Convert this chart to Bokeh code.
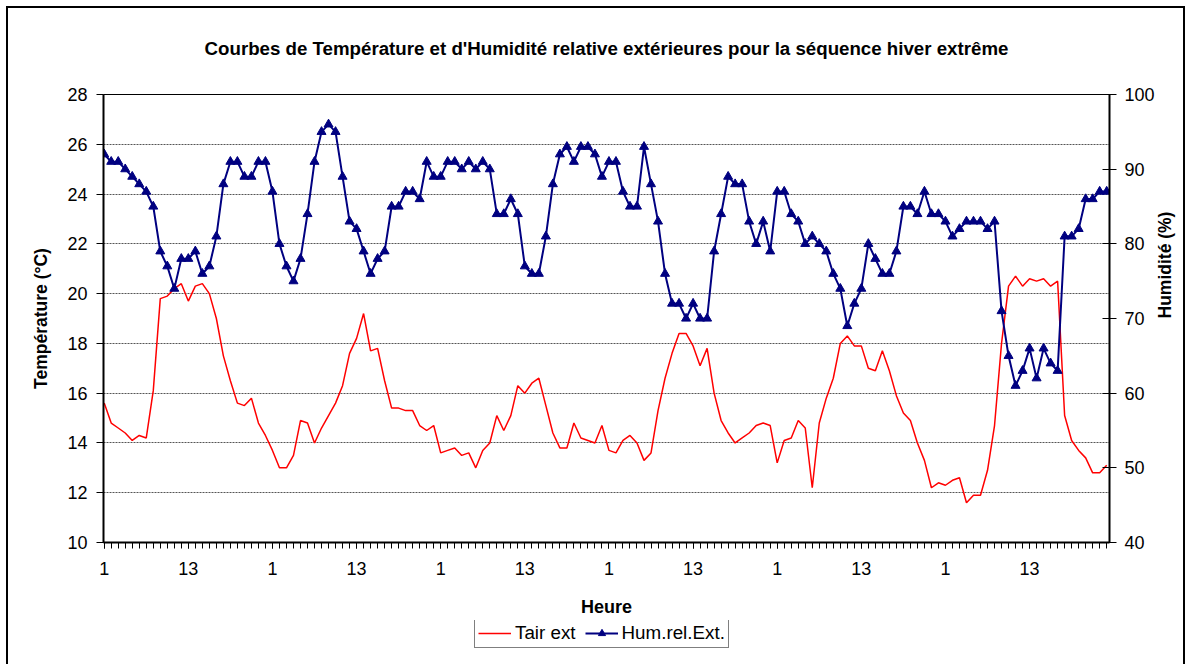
import math
from bokeh.plotting import figure
from bokeh.layouts import column
from bokeh.models import Range1d, LinearAxis, FixedTicker, Legend, LegendItem
from bokeh.embed import file_html
from bokeh.resources import INLINE

title_text = "Courbes de Température et d'Humidité relative extérieures pour la séquence hiver extrême"
x_label = "Heure"
y_label_left = "Température (°C)"
y_label_right = "Humidité (%)"
series_names = ["Tair ext", "Hum.rel.Ext."]

hours = list(range(1, 145))
tick_positions = [1, 13, 25, 37, 49, 61, 73, 85, 97, 109, 121, 133]
tick_labels = ["1", "13", "1", "13", "1", "13", "1", "13", "1", "13", "1", "13"]
temp_ticks = [10, 12, 14, 16, 18, 20, 22, 24, 26, 28]
hum_ticks = [40, 50, 60, 70, 80, 90, 100]

tair_ext = [
    15.6, 14.8, 14.6, 14.4, 14.1, 14.3, 14.2, 16.1, 19.8, 19.9, 20.2, 20.4,
    19.7, 20.3, 20.4, 20.0, 19.0, 17.5, 16.5, 15.6, 15.5, 15.8, 14.8, 14.3,
    13.7, 13.0, 13.0, 13.5, 14.9, 14.8, 14.0, 14.6, 15.1, 15.6, 16.3, 17.6,
    18.2, 19.2, 17.7, 17.8, 16.5, 15.4, 15.4, 15.3, 15.3, 14.7, 14.5, 14.7,
    13.6, 13.7, 13.8, 13.5, 13.6, 13.0, 13.7, 14.0, 15.1, 14.5, 15.1, 16.3,
    16.0, 16.4, 16.6, 15.5, 14.4, 13.8, 13.8, 14.8, 14.2, 14.1, 14.0, 14.7,
    13.7, 13.6, 14.1, 14.3, 14.0, 13.3, 13.6, 15.3, 16.6, 17.6, 18.4, 18.4,
    17.9, 17.1, 17.8, 16.0, 14.9, 14.4, 14.0, 14.2, 14.4, 14.7, 14.8, 14.7,
    13.2, 14.1, 14.2, 14.9, 14.6, 12.2, 14.8, 15.8, 16.6, 18.0, 18.3, 17.9,
    17.9, 17.0, 16.9, 17.7, 16.9, 15.9, 15.2, 14.9, 14.0, 13.3, 12.2, 12.4,
    12.3, 12.5, 12.6, 11.6, 11.9, 11.9, 12.9, 14.7, 18.0, 20.3, 20.7, 20.3,
    20.6, 20.5, 20.6, 20.3, 20.5, 15.1, 14.1, 13.7, 13.4, 12.8, 12.8, 13.1,
]

hum_rel_ext = [
    92, 91, 91, 90, 89, 88, 87, 85, 79, 77, 74, 78,
    78, 79, 76, 77, 81, 88, 91, 91, 89, 89, 91, 91,
    87, 80, 77, 75, 78, 84, 91, 95, 96, 95, 89, 83,
    82, 79, 76, 78, 79, 85, 85, 87, 87, 86, 91, 89,
    89, 91, 91, 90, 91, 90, 91, 90, 84, 84, 86, 84,
    77, 76, 76, 81, 88, 92, 93, 91, 93, 93, 92, 89,
    91, 91, 87, 85, 85, 93, 88, 83, 76, 72, 72, 70,
    72, 70, 70, 79, 84, 89, 88, 88, 83, 80, 83, 79,
    87, 87, 84, 83, 80, 81, 80, 79, 76, 74, 69, 72,
    74, 80, 78, 76, 76, 79, 85, 85, 84, 87, 84, 84,
    83, 81, 82, 83, 83, 83, 82, 83, 71, 65, 61, 63,
    66, 62, 66, 64, 63, 81, 81, 82, 86, 86, 87, 87,
]

FONT = "Liberation Sans"
RED = "#FF0000"
NAVY = "#000080"

p = figure(
    width=1179, height=614,
    output_backend="svg", toolbar_location=None,
    x_range=Range1d(0.9, 144.4), y_range=Range1d(10, 28),
    min_border_left=95, min_border_right=73, min_border_top=86, min_border_bottom=80,
    background_fill_color="white", border_fill_color="white",
)
p.styles = {"margin-left": "6px", "margin-top": "6px",
            "border-left": "2px solid black", "border-top": "2px solid black",
            "border-right": "2px solid black"}
p.title.text = ""

# Chart title, carried by a tick-less axis above the frame
ta = LinearAxis(ticker=FixedTicker(ticks=[]))
ta.axis_label = title_text
ta.axis_label_text_font = FONT
ta.axis_label_text_font_size = "18.7px"
ta.axis_label_text_font_style = "bold"
ta.axis_label_text_color = "black"
ta.axis_label_standoff = 36
ta.axis_line_color = None
ta.major_tick_line_color = None
ta.minor_tick_line_color = None
ta.major_tick_out = 0
ta.major_tick_in = 0
ta.minor_tick_out = 0
ta.minor_tick_in = 0
ta.major_label_standoff = 0
p.add_layout(ta, "above")

p.outline_line_color = "black"
p.outline_line_width = 1

p.extra_y_ranges = {"hum": Range1d(40, 100)}

# Grid
p.xgrid.visible = False
p.ygrid.ticker = FixedTicker(ticks=temp_ticks)
p.ygrid.grid_line_color = "#555555"
p.ygrid.grid_line_dash = "2 1"
p.ygrid.grid_line_width = 1

# X axis
xa = p.below[0]
xa.ticker = FixedTicker(ticks=tick_positions, minor_ticks=hours)
xa.major_label_overrides = {pos: lab for pos, lab in zip(tick_positions, tick_labels)}
xa.axis_label = x_label
xa.axis_label_text_font = FONT
xa.axis_label_text_font_size = "18px"
xa.axis_label_text_font_style = "bold"
xa.axis_label_text_color = "black"
xa.axis_label_standoff = 19
xa.major_label_text_font = FONT
xa.major_label_text_font_size = "18px"
xa.major_label_text_color = "black"
xa.major_label_standoff = 13
xa.axis_line_color = "black"
xa.axis_line_width = 2
xa.major_tick_in = 0
xa.major_tick_out = 6
xa.minor_tick_in = 0
xa.minor_tick_out = 6
xa.major_tick_line_color = "black"
xa.minor_tick_line_color = "black"

# Left axis
ya = p.left[0]
ya.ticker = FixedTicker(ticks=temp_ticks)
ya.axis_label = y_label_left
ya.axis_label_text_font = FONT
ya.axis_label_text_font_size = "17.5px"
ya.axis_label_text_font_style = "bold"
ya.axis_label_text_color = "black"
ya.axis_label_standoff = 13
ya.major_label_text_font = FONT
ya.major_label_text_font_size = "18px"
ya.major_label_text_color = "black"
ya.major_label_standoff = 9
ya.axis_line_color = "black"
ya.axis_line_width = 2
ya.major_tick_in = 0
ya.major_tick_out = 7
ya.minor_tick_line_color = None

# Right axis
ra = LinearAxis(y_range_name="hum", ticker=FixedTicker(ticks=hum_ticks))
ra.axis_label = y_label_right
ra.axis_label_text_font = FONT
ra.axis_label_text_font_size = "17.5px"
ra.axis_label_text_font_style = "bold"
ra.axis_label_text_color = "black"
ra.axis_label_standoff = 7
try:
    ra.axis_label_orientation = math.pi / 2
except Exception:
    pass
ra.major_label_text_font = FONT
ra.major_label_text_font_size = "18px"
ra.major_label_text_color = "black"
ra.major_label_standoff = 8
ra.axis_line_color = "black"
ra.axis_line_width = 2
ra.major_tick_in = 7
ra.major_tick_out = 7
ra.minor_tick_line_color = None
p.add_layout(ra, "right")

# Data
r_t = p.line(hours, tair_ext, line_color=RED, line_width=1.5)
r_h = p.line(hours, hum_rel_ext, line_color=NAVY, line_width=2, y_range_name="hum")
r_hm = p.scatter(hours, hum_rel_ext, marker="triangle", size=9,
                 fill_color=NAVY, line_color=NAVY, y_range_name="hum")

# Legend strip (separate figure so it can sit below the axis title)
pl = figure(
    width=1179, height=44,
    output_backend="svg", toolbar_location=None,
    x_range=Range1d(-3, -2), y_range=Range1d(-3, -2),
    min_border_left=0, min_border_right=0, min_border_top=0, min_border_bottom=0,
    background_fill_color="white", border_fill_color="white",
)
pl.styles = {"margin-left": "6px",
             "border-left": "2px solid black", "border-right": "2px solid black"}
pl.title.text = ""
pl.axis.visible = False
pl.grid.visible = False
pl.outline_line_color = None
# proxies of the same series (their data lie outside this strip's ranges)
lt = pl.line(hours, tair_ext, line_color=RED, line_width=1.5)
lh = pl.line(hours, hum_rel_ext, line_color=NAVY, line_width=2)
lhm = pl.scatter(hours, hum_rel_ext, marker="triangle", size=9,
                 fill_color=NAVY, line_color=NAVY)

legend = Legend(
    items=[LegendItem(label=series_names[0], renderers=[lt]),
           LegendItem(label=series_names[1], renderers=[lh, lhm])],
    orientation="horizontal", location=(371, 16),
    border_line_color="black", border_line_width=1,
    background_fill_color="white", background_fill_alpha=1,
    label_text_font=FONT, label_text_font_size="18.8px", label_text_color="black",
    glyph_width=33, glyph_height=18, label_standoff=4, spacing=9,
    padding=3, margin=0,
)
pl.add_layout(legend, "center")

layout = column(p, pl, spacing=0)
open("out.html", "w").write(file_html(layout, INLINE))
